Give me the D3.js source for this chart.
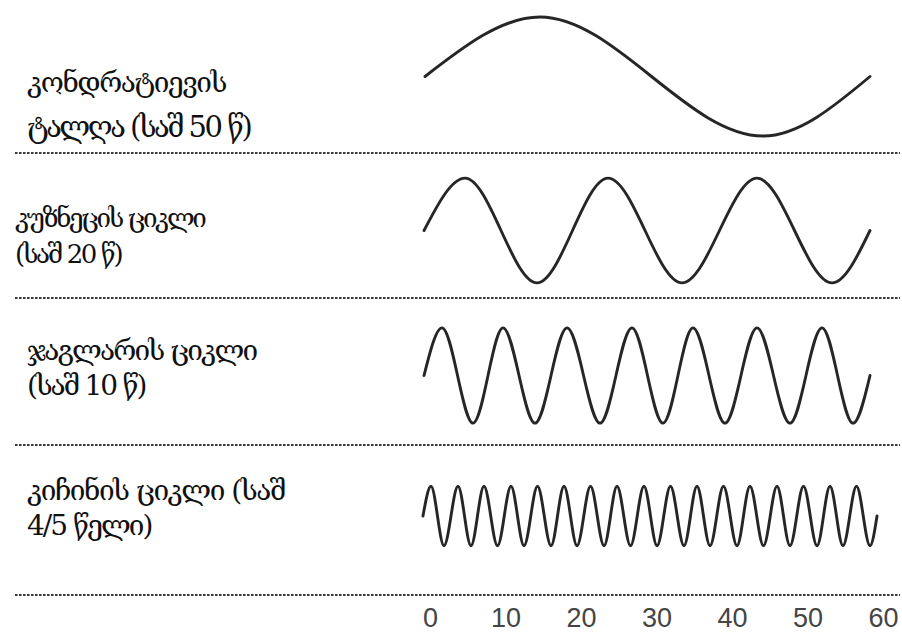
<!DOCTYPE html>
<html>
<head>
<meta charset="utf-8">
<script src="https://cdn.jsdelivr.net/npm/d3@7"></script>
<style>
  html, body { margin: 0; padding: 0; background: #ffffff; }
  svg { display: block; }
</style>
</head>
<body>
<svg id="chart" width="902" height="633"></svg>
<script>
// ---------- data ----------
const cycleNames = ["კონდრატიევის ტალღა", "კუზნეცის ციკლი", "ჯაგლარის ციკლი", "კიჩინის ციკლი"];
const labelLines = [
  ["კონდრატიევის", "ტალღა (საშ 50 წ)"],
  ["კუზნეცის ციკლი", "(საშ 20 წ)"],
  ["ჯაგლარის ციკლი", "(საშ 10 წ)"],
  ["კიჩინის ციკლი (საშ", "4/5 წელი)"]
];
const xTicks = [0, 10, 20, 30, 40, 50, 60];

// turning points (years) and relative amplitude
const kondratievT = [-0.66, 14.57, 44.11, 58.28];
const kondratievV = [0, 1, -1, 0];

const kuznetsT = [-0.79, 4.64, 14.17, 23.58, 33.38, 43.31, 53.25, 58.28];
const kuznetsV = [0, 0.88, -0.88, 0.88, -0.88, 0.88, -0.88, 0];

const juglarT = [-0.79, 1.59, 5.70, 9.67, 13.91, 18.15, 22.52, 26.75, 30.86,
                 34.83, 39.07, 43.31, 47.68, 51.92, 56.03, 58.28];
const juglarV = [0, 0.8, -0.8, 0.8, -0.8, 0.8, -0.8, 0.8, -0.8,
                 0.8, -0.8, 0.8, -0.8, 0.8, -0.8, 0];

const kitchinT = [-0.93, 0.13, 1.85, 3.71, 5.43, 7.15, 8.94, 10.73, 12.45, 14.24,
                  16.03, 17.75, 19.47, 21.26, 23.05, 24.77, 26.56, 28.34, 30.07,
                  31.85, 33.64, 35.36, 37.09, 38.87, 40.66, 42.38, 44.17, 45.96,
                  47.68, 49.47, 51.26, 52.98, 54.70, 56.49, 58.28, 59.21];
const kitchinV = [0, 0.5, -0.5, 0.5, -0.5, 0.5, -0.5, 0.5, -0.5, 0.5,
                  -0.5, 0.5, -0.5, 0.5, -0.5, 0.5, -0.5, 0.5, -0.5,
                  0.5, -0.5, 0.5, -0.5, 0.5, -0.5, 0.5, -0.5, 0.5,
                  -0.5, 0.5, -0.5, 0.5, -0.5, 0.5, -0.5, 0];

const seriesT = [kondratievT, kuznetsT, juglarT, kitchinT];
const seriesV = [kondratievV, kuznetsV, juglarV, kitchinV];

// ---------- layout ----------
const svg = d3.select("#chart");
const x = d3.scaleLinear().domain([0, 60]).range([430, 883]);

const panelMid = [76.5, 230.5, 375.5, 516];
const unitPx = 59.5;
const separatorsY = [153, 298, 445, 595];

const labelPos = [
  { x: 27, y: [92, 137], size: [28, 29], ls: [-1.5, -2.5] },
  { x: 15, y: [227, 263], size: [26, 26], ls: [-2.4, -2.4] },
  { x: 27, y: [360, 395], size: [28, 28], ls: [-1.9, -2.2] },
  { x: 27, y: [500, 535], size: [28, 28], ls: [-1.5, -2.0] }
];

// separators (dotted)
svg.append("g").selectAll("line")
  .data(separatorsY)
  .join("line")
  .attr("x1", 15).attr("x2", 900)
  .attr("y1", d => d).attr("y2", d => d)
  .attr("stroke", "#3c3c3c")
  .attr("stroke-width", 2.2)
  .attr("stroke-dasharray", "2.6 1.4");

// waves
const waves = svg.append("g");
seriesT.forEach((ts, i) => {
  const y = d3.scaleLinear().domain([-1, 1]).range([panelMid[i] + unitPx, panelMid[i] - unitPx]);
  const pts = ts.map((t, k) => [t, seriesV[i][k]]);
  const line = d3.line().x(d => x(d[0])).y(d => y(d[1])).curve(d3.curveMonotoneX);
  waves.append("path")
    .attr("d", line(pts))
    .attr("fill", "none")
    .attr("stroke", "#262626")
    .attr("stroke-width", 2.9)
    .attr("stroke-linejoin", "round")
    .attr("stroke-linecap", "round")
    .attr("aria-label", cycleNames[i]);
});

// labels
labelLines.forEach((lines, i) => {
  const p = labelPos[i];
  const t = svg.append("text")
    .attr("font-family", "'DejaVu Serif', 'DejaVu Sans', serif")
    .attr("fill", "#111");
  lines.forEach((ln, j) => {
    t.append("tspan").attr("x", p.x).attr("y", p.y[j])
      .attr("font-size", p.size[j])
      .attr("letter-spacing", p.ls[j]).text(ln);
  });
});

// x axis
const axis = d3.axisBottom(x).tickValues(xTicks).tickSize(0).tickPadding(0).tickFormat(d3.format("d"));
const gx = svg.append("g").attr("transform", "translate(0,627)").call(axis);
gx.select(".domain").remove();
gx.selectAll("text")
  .attr("dy", null)
  .attr("y", 0)
  .attr("font-family", "'Liberation Sans', Arial, sans-serif")
  .attr("font-size", 27)
  .attr("fill", "#454545");
</script>
</body>
</html>
